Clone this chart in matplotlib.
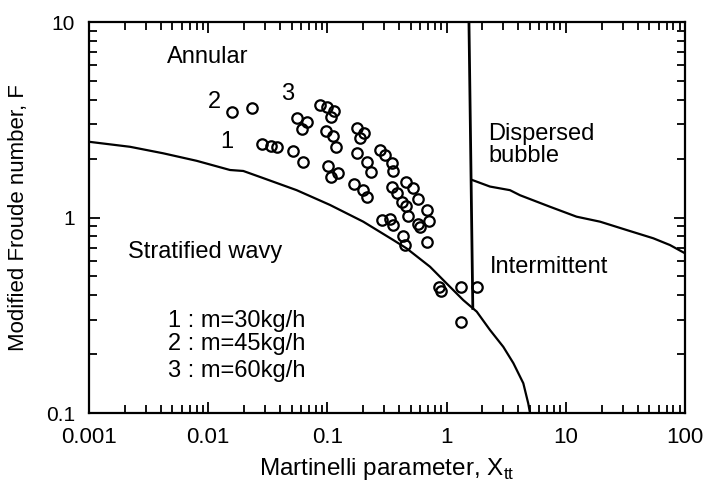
import matplotlib
matplotlib.use("Agg")
import matplotlib.pyplot as plt
from matplotlib.ticker import FixedLocator, FixedFormatter, LogLocator, NullFormatter

plt.rcParams['font.family'] = ['Liberation Sans', 'DejaVu Sans']
plt.rcParams['mathtext.fontset'] = 'custom'
plt.rcParams['mathtext.rm'] = 'Liberation Sans'

# ---- data ----
data_x = [0.0159, 0.0234, 0.0552, 0.0670, 0.0608, 0.0867, 0.0986, 0.1135, 0.1067,
          0.0282, 0.0336, 0.0376, 0.0512, 0.0621, 0.0973, 0.1122, 0.118, 0.176,
          0.203, 0.1875, 0.102, 0.123, 0.1067, 0.176, 0.214, 0.231, 0.276, 0.304,
          0.346, 0.353, 0.167, 0.198, 0.214, 0.456, 0.526, 0.579, 0.346, 0.381,
          0.420, 0.456, 0.478, 0.681, 0.716, 0.579, 0.598, 0.286, 0.335, 0.353,
          0.429, 0.448, 0.681, 0.869, 0.894, 1.32, 1.81, 1.32]
data_y = [3.45, 3.63, 3.22, 3.07, 2.83, 3.76, 3.66, 3.52, 3.28,
          2.38, 2.32, 2.30, 2.18, 1.93, 2.78, 2.61, 2.30, 2.86,
          2.70, 2.54, 1.83, 1.68, 1.61, 2.14, 1.93, 1.70, 2.21, 2.09,
          1.91, 1.72, 1.48, 1.38, 1.28, 1.52, 1.41, 1.25, 1.43, 1.34,
          1.20, 1.15, 1.02, 1.09, 0.963, 0.927, 0.897, 0.971, 0.979, 0.916,
          0.803, 0.723, 0.746, 0.443, 0.423, 0.443, 0.443, 0.293]

strat_x = [0.001, 0.00221, 0.0042, 0.0080, 0.01524, 0.0197, 0.029, 0.0552, 0.105,
           0.200, 0.357, 0.462, 0.726, 1.0, 1.38, 1.79, 2.31, 2.99, 3.63, 4.40, 4.84, 5.01]
strat_y = [2.44, 2.30, 2.13, 1.95, 1.75, 1.73, 1.59, 1.38, 1.16,
           0.952, 0.767, 0.695, 0.560, 0.460, 0.378, 0.330, 0.266, 0.218, 0.180, 0.142, 0.112, 0.1]

vert_x = [1.54, 1.66]
vert_y = [10.0, 0.337]

bub_x = [1.62, 2.31, 3.40, 4.13, 7.37, 12.3, 19.4, 32.4, 54.2, 74.8, 100.0]
bub_y = [1.56, 1.44, 1.38, 1.30, 1.135, 1.01, 0.952, 0.863, 0.783, 0.723, 0.656]

xtick_vals = [0.001, 0.01, 0.1, 1, 10, 100]
xtick_labels = ['0.001', '0.01', '0.1', '1', '10', '100']
ytick_vals = [0.1, 1, 10]
ytick_labels = ['0.1', '1', '10']

legend_lines = ['1 : m=30kg/h', '2 : m=45kg/h', '3 : m=60kg/h']

# ---- figure ----
fig = plt.figure(figsize=(7.03, 4.97), dpi=100)
ax = fig.add_axes([0.1266, 0.169, 0.8478, 0.7867])
ax.set_xscale('log')
ax.set_yscale('log')
ax.set_xlim(0.001, 100)
ax.set_ylim(0.1, 10)

ax.plot(strat_x, strat_y, color='black', lw=1.6, solid_capstyle='butt')
ax.plot(vert_x, vert_y, color='black', lw=2.0, solid_capstyle='butt')
ax.plot(bub_x, bub_y, color='black', lw=1.6)
ax.plot(data_x, data_y, linestyle='none', marker='o', ms=7.5, mfc='none',
        mec='black', mew=1.6)

ax.xaxis.set_major_locator(FixedLocator(xtick_vals))
ax.xaxis.set_major_formatter(FixedFormatter(xtick_labels))
ax.yaxis.set_major_locator(FixedLocator(ytick_vals))
ax.yaxis.set_major_formatter(FixedFormatter(ytick_labels))
ax.xaxis.set_minor_locator(LogLocator(base=10, subs=range(2, 10), numticks=20))
ax.yaxis.set_minor_locator(LogLocator(base=10, subs=range(2, 10), numticks=20))
ax.xaxis.set_minor_formatter(NullFormatter())
ax.yaxis.set_minor_formatter(NullFormatter())

ax.tick_params(which='both', direction='in', top=True, right=True, width=1.3, color='black')
ax.tick_params(which='major', length=8)
ax.tick_params(which='minor', length=5.5)
ax.tick_params(axis='x', which='major', labelsize=16, pad=10)
ax.tick_params(axis='y', which='major', labelsize=15, pad=10)
for s in ax.spines.values():
    s.set_linewidth(1.6)

ax.set_xlabel('Martinelli parameter, X$_{\\mathregular{tt}}$', fontsize=17.5, labelpad=6)
ax.set_ylabel('Modified Froude number, F', fontsize=16, labelpad=12)

fs = 17
tr = ax.transAxes
ax.text(0.130, 0.894, 'Annular', fontsize=fs, transform=tr, va='baseline', ha='left')
ax.text(0.200, 0.780, '2', fontsize=fs, transform=tr, va='baseline', ha='left')
ax.text(0.323, 0.801, '3', fontsize=fs, transform=tr, va='baseline', ha='left')
ax.text(0.220, 0.677, '1', fontsize=fs, transform=tr, va='baseline', ha='left')
ax.text(0.066, 0.396, 'Stratified wavy', fontsize=fs, transform=tr, va='baseline', ha='left')
ax.text(0.670, 0.698, 'Dispersed', fontsize=fs, transform=tr, va='baseline', ha='left')
ax.text(0.670, 0.643, 'bubble', fontsize=fs, transform=tr, va='baseline', ha='left')
ax.text(0.673, 0.357, 'Intermittent', fontsize=fs, transform=tr, va='baseline', ha='left')
for line, yb in zip(legend_lines, [0.221, 0.161, 0.093]):
    ax.text(0.133, yb, line, fontsize=fs, transform=tr, va='baseline', ha='left')

fig.savefig('out.png', dpi=100)
